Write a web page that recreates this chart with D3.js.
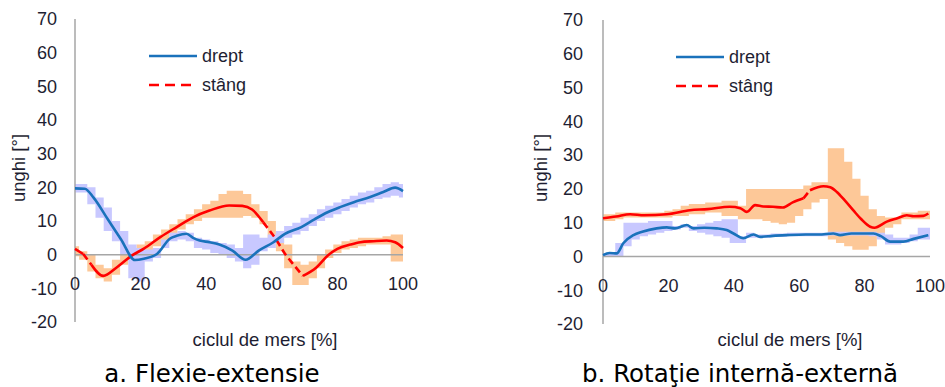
<!DOCTYPE html>
<html lang="ro">
<head>
  <meta charset="UTF-8">
  <title>Unghiuri - ciclul de mers</title>
  <script src="https://cdn.jsdelivr.net/npm/d3@7"></script>
  <style type="text/css">
    body { margin: 0; background: #fff; }
    svg { display: block; }
    .tick-label { font-family: 'Liberation Sans', Arial, sans-serif; font-size: 18px; fill: #1e1e32; }
    .axis-title { font-family: 'Liberation Sans', Arial, sans-serif; font-size: 18.5px; fill: #1e1e32; }
    .legend-label { font-family: 'Liberation Sans', Arial, sans-serif; font-size: 18px; fill: #1e1e32; }
    .caption { font-family: 'DejaVu Sans', Verdana, sans-serif; font-size: 24.5px; fill: #000; }
  </style>
</head>
<body>
<div id="chart"></div>
<script>
  // ---- data ----
  var yTicks = [-20, -10, 0, 10, 20, 30, 40, 50, 60, 70];
  var xTicks = [0, 20, 40, 60, 80, 100];
  var seriesNames = ['drept', 'stâng'];
  var captions = ['a. Flexie-extensie', 'b. Rotaţie internă-externă'];

  // band steps (every 2.5% of the cycle)
  var bandPct = [0, 2.5, 5, 7.5, 10, 12.5, 15, 17.5, 20, 22.5, 25, 27.5, 30, 32.5, 35, 37.5, 40, 42.5, 45, 47.5, 50,
    52.5, 55, 57.5, 60, 62.5, 65, 67.5, 70, 72.5, 75, 77.5, 80, 82.5, 85, 87.5, 90, 92.5, 95, 97.5, 100];

  // a. Flexie-extensie
  var flexDreptPct = [0, 3, 5.6, 10, 14, 18.3, 21, 25, 29, 31, 34, 36, 38, 41, 44, 48, 52, 56, 60.5, 64, 69, 73, 77, 81, 85, 90, 94, 97.6, 100];
  var flexDreptVal = [19.7, 19.6, 17, 10.5, 4.6, -1.6, -1.2, 0.2, 4.8, 5.6, 6.2, 5.0, 4.2, 3.7, 3.0, 1.2, -1.5, 1.2, 3.7, 6.2, 8.2, 10.5, 12.6, 14.2, 15.6, 17.1, 18.6, 19.9, 18.9];
  var flexStangPct = [0, 2.5, 5, 8.6, 12.7, 17.3, 21, 26, 31, 36, 41, 47, 51, 54, 57.4, 61.5, 64, 66.5, 69.5, 73.6, 77, 80, 84, 87, 91, 95, 97.6, 100];
  var flexStangVal = [1.7, 0.2, -3, -6.3, -3.8, -0.3, 1.8, 5.2, 8.2, 11.1, 13.1, 14.6, 14.5, 13.4, 9.6, 4.2, 0.3, -2.8, -6.3, -3.8, -0.3, 1.7, 3.0, 3.7, 4.0, 4.2, 3.7, 2.0];
  var flexDreptLo = [18.5, 18.5, 15, 11, 7, 4, 0, -7, -8, -2, -1, 2, 4, 4.5, 4, 2, 1.5, 0.5, 0, -1, -2,
    -4, -3, 1, 2, 3.5, 5, 6, 7, 8.5, 10, 11, 12, 13, 14, 15, 15.5, 16.5, 17, 17.5, 17];
  var flexDreptHi = [21, 21, 20, 17, 14, 10, 7, 3, 2, 1.5, 2, 4.5, 6.5, 7, 6.5, 5, 4.5, 4, 3.5, 3, 2,
    6, 6, 5, 6, 7, 8.5, 9.5, 11, 12, 13.5, 14.5, 15.5, 16.5, 17.5, 18.5, 19, 20, 21, 21.5, 21];
  var flexStangLo = [-0.5, -1.5, -5, -7, -8, -6, -3, -1, 0, 1, 2.5, 4, 6, 7.5, 9, 10, 11, 11, 11, 11, 11,
    11.5, 11, 9, 4, 1, -4, -9, -9, -7, -4, -1, 0.5, 1.5, 2, 2.5, 3, 3, 3, -2, -2];
  var flexStangHi = [2.5, 1, 0, -3, -4, -1.5, 0, 1, 3, 4, 6, 7.5, 9, 10.5, 12, 13.5, 15, 16, 18, 19, 19,
    18, 15, 13, 10, 6, 3, -2, -3, -2, 0, 1.5, 3, 4, 4.5, 5, 5, 5, 5.5, 6, 6];

  // b. Rotatie interna-externa
  var rotDreptPct = [0, 2, 4.2, 6.2, 9.3, 12, 16.4, 19.5, 22, 25.6, 27.7, 31, 34.8, 37.8, 39.9, 42.9, 46, 48, 52, 56, 62, 66, 70.4, 72.5, 76, 82.7, 85, 87.8, 91.8, 95, 99.5];
  var rotDreptVal = [0.4, 1.0, 0.9, 3.9, 6.3, 7.3, 8.3, 8.6, 8.3, 9.3, 8.3, 8.5, 8.3, 7.8, 6.8, 5.4, 6.5, 5.8, 6.1, 6.3, 6.5, 6.5, 6.8, 6.3, 6.8, 6.8, 6.0, 4.4, 4.4, 5.2, 6.3];
  var rotStangPct = [0, 4, 8.3, 12.6, 19.5, 26.6, 32, 38.8, 42, 44, 46.5, 49, 52, 55, 58, 61.3, 63.3, 67.4, 69.5, 71.5, 74, 76.5, 79, 81.7, 83, 86.8, 90, 92.9, 95, 98, 99.5];
  var rotStangVal = [11.3, 11.8, 12.5, 12.2, 12.5, 13.7, 14.0, 14.7, 14.3, 13.2, 15.2, 14.8, 14.7, 14.5, 16, 17.2, 19.6, 20.8, 20.5, 19.1, 16.5, 13.7, 11, 8.8, 8.5, 10.3, 11.3, 12.2, 11.9, 12.0, 12.7];
  var rotDreptLo = [0, 0, 0, 3, 5, 6, 6.5, 7, 7.5, 8, 8.5, 7.5, 7, 6.5, 6, 5.5, 4, 4, 5.5, 5.5, 5.5,
    5.8, 5.8, 6, 6, 6, 6, 6, 6.2, 6.2, 6.2, 6.2, 6.2, 6, 5, 3.5, 3.5, 4, 4.5, 5, 5];
  var rotDreptHi = [1, 1, 4, 10, 10, 10, 10.5, 10.5, 10.5, 9, 9.5, 9, 9.5, 10, 10.5, 11, 11, 6, 7, 6.5, 6.5,
    6.8, 6.8, 7, 7, 7, 7, 7, 7.3, 7.3, 7.3, 7.3, 7.3, 7.3, 7, 6.5, 5.5, 5.5, 6.5, 8.5, 8.5];
  var rotStangLo = [10.5, 10.5, 11, 11.5, 11.5, 11.5, 11.5, 11.5, 11.5, 12, 12, 12.5, 12.5, 13, 13, 12, 12, 11, 11, 11, 10.5,
    10, 9.5, 10, 12, 14, 16, 17, 5, 4, 3, 2, 2, 3, 6, 8.5, 9.5, 11, 11, 11, 11];
  var rotStangHi = [12.5, 12.5, 13, 13, 13, 13, 13, 13, 13.5, 14, 15, 15.5, 15.5, 16, 16, 16.5, 16.5, 15, 20, 20, 20,
    20, 20, 20, 20, 21, 22, 22, 32, 32, 28, 23, 18, 14, 12, 11.5, 11.5, 13, 13, 13.5, 13.5];

  // ---- layout ----
  var WIDTH = 945, HEIGHT = 387;
  var COLORS = {drept: '#1a72bb', stang: '#ff0000', dreptBand: '#c8c8ff', stangBand: '#fdc898', axis: '#a6a6a6'};

  var charts = [
    {
      left: 75, right: 403, top: 19, bottom: 322, labelGap: 18, yTitleX: 19, xTitleX: 265, captionX: 212,
      legendX: 149,
      caption: captions[0],
      drept: [flexDreptPct, flexDreptVal], stang: [flexStangPct, flexStangVal],
      dreptBand: [flexDreptLo, flexDreptHi], stangBand: [flexStangLo, flexStangHi]
    },
    {
      left: 603, right: 930, top: 20, bottom: 324, labelGap: 20, yTitleX: 541, xTitleX: 790, captionX: 740,
      legendX: 676,
      caption: captions[1],
      drept: [rotDreptPct, rotDreptVal], stang: [rotStangPct, rotStangVal],
      dreptBand: [rotDreptLo, rotDreptHi], stangBand: [rotStangLo, rotStangHi]
    }
  ];

  var svg = d3.select('#chart').append('svg')
    .attr('width', WIDTH)
    .attr('height', HEIGHT);

  function zip(xs, ys) {
    return xs.map(function (x, i) { return [x, ys[i]]; });
  }

  // Excel-like dashing: only the steep pieces of the dashed series show gaps
  function drawLine(g, pts, xScale, yScale, color, dashed) {
    var line = d3.line()
      .x(function (d) { return xScale(d[0]); })
      .y(function (d) { return yScale(d[1]); })
      .curve(d3.curveMonotoneX);
    if (!dashed) {
      g.append('path').datum(pts)
        .attr('d', line).attr('fill', 'none')
        .attr('stroke', color).attr('stroke-width', 2.6)
        .attr('stroke-linejoin', 'round');
      return;
    }
    var runs = [], cur = [pts[0]], curSteep = null;
    for (var i = 1; i < pts.length; i++) {
      var dx = xScale(pts[i][0]) - xScale(pts[i - 1][0]);
      var dy = yScale(pts[i][1]) - yScale(pts[i - 1][1]);
      var steep = Math.abs(dy / dx) > 1.19;
      if (curSteep !== null && steep !== curSteep) {
        runs.push({pts: cur, steep: curSteep});
        cur = [pts[i - 1]];
      }
      cur.push(pts[i]);
      curSteep = steep;
    }
    runs.push({pts: cur, steep: curSteep});
    runs.forEach(function (r) {
      g.append('path').datum(r.pts)
        .attr('d', line).attr('fill', 'none')
        .attr('stroke', color).attr('stroke-width', 2.6)
        .attr('stroke-dasharray', r.steep ? '7,4' : null);
    });
  }

  charts.forEach(function (c) {
    var g = svg.append('g');
    var xScale = d3.scaleLinear().domain([0, 100]).range([c.left, c.right]);
    var yScale = d3.scaleLinear().domain([-20, 70]).range([c.bottom, c.top]);

    // bands
    var area = d3.area()
      .x(function (d) { return xScale(d[0]); })
      .y0(function (d) { return yScale(d[1]); })
      .y1(function (d) { return yScale(d[2]); })
      .curve(d3.curveStep);
    var dreptBand = bandPct.map(function (p, i) { return [p, c.dreptBand[0][i], c.dreptBand[1][i]]; });
    var stangBand = bandPct.map(function (p, i) { return [p, c.stangBand[0][i], c.stangBand[1][i]]; });
    g.append('path').datum(stangBand).attr('d', area).attr('fill', COLORS.stangBand);
    g.append('path').datum(dreptBand).attr('d', area).attr('fill', COLORS.dreptBand);

    // axes
    g.append('line')
      .attr('x1', xScale(0)).attr('x2', xScale(0))
      .attr('y1', yScale(70)).attr('y2', yScale(-20))
      .attr('stroke', COLORS.axis).attr('stroke-width', 1.5);
    g.append('line')
      .attr('x1', xScale(0)).attr('x2', xScale(100))
      .attr('y1', yScale(0)).attr('y2', yScale(0))
      .attr('stroke', COLORS.axis).attr('stroke-width', 1.5);

    g.selectAll('.ytick').data(yTicks).enter().append('text')
      .attr('class', 'tick-label')
      .attr('x', xScale(0) - c.labelGap)
      .attr('y', function (d) { return yScale(d); })
      .attr('dy', '0.35em')
      .attr('text-anchor', 'end')
      .text(function (d) { return d; });

    g.selectAll('.xtick').data(xTicks).enter().append('text')
      .attr('class', 'tick-label')
      .attr('x', function (d) { return xScale(d); })
      .attr('y', yScale(0) + 29)
      .attr('dy', '0.35em')
      .attr('text-anchor', 'middle')
      .text(function (d) { return d; });

    // series
    drawLine(g, zip(c.stang[0], c.stang[1]), xScale, yScale, COLORS.stang, true);
    drawLine(g, zip(c.drept[0], c.drept[1]), xScale, yScale, COLORS.drept, false);

    // legend
    var legend = [
      {name: seriesNames[0], color: COLORS.drept, dash: null, y: c.top + 37},
      {name: seriesNames[1], color: COLORS.stang, dash: '10,6', y: c.top + 66}
    ];
    legend.forEach(function (l) {
      g.append('line')
        .attr('x1', c.legendX).attr('x2', c.legendX + 48)
        .attr('y1', l.y).attr('y2', l.y)
        .attr('stroke', l.color).attr('stroke-width', 2.6)
        .attr('stroke-dasharray', l.dash);
      g.append('text').attr('class', 'legend-label')
        .attr('x', c.legendX + 53).attr('y', l.y)
        .attr('dy', '0.35em')
        .text(l.name);
    });

    // titles
    g.append('text').attr('class', 'axis-title')
      .attr('transform', 'translate(' + c.yTitleX + ',' + 168 + ') rotate(-90)')
      .attr('text-anchor', 'middle')
      .attr('dy', '0.35em')
      .text('unghi [°]');
    g.append('text').attr('class', 'axis-title')
      .attr('x', c.xTitleX).attr('y', 340)
      .attr('dy', '0.35em')
      .attr('text-anchor', 'middle')
      .text('ciclul de mers [%]');
    g.append('text').attr('class', 'caption')
      .attr('x', c.captionX).attr('y', 373)
      .attr('dy', '0.35em')
      .attr('text-anchor', 'middle')
      .text(c.caption);
  });
</script>
</body>
</html>
